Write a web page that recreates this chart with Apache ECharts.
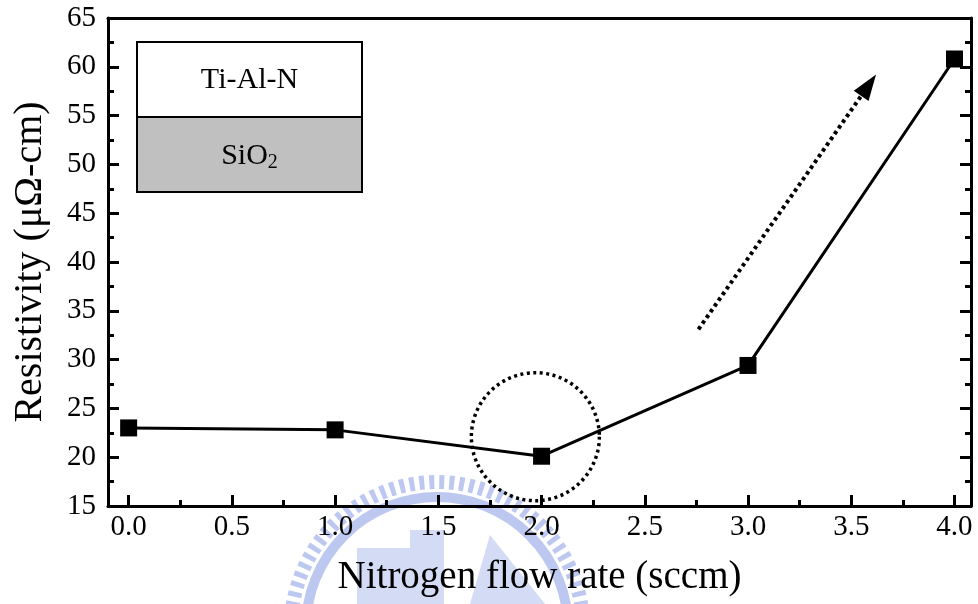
<!DOCTYPE html>
<html>
<head>
<meta charset="utf-8">
<script src="https://cdn.jsdelivr.net/npm/echarts@6/dist/echarts.min.js"></script>
<style>
  html, body { margin: 0; padding: 0; background: #fff; }
  #chart { width: 978px; height: 604px; }
</style>
</head>
<body>
<div id="chart"></div>
<script>
// Nitrogen flow rate (sccm) and measured film resistivity (μΩ-cm)
const flowRates = [0.0, 1.0, 2.0, 3.0, 4.0];
const resistivity = [23.0, 22.8, 20.1, 29.4, 60.8];

// Axis tick positions and labels
const xMajorTicks = [0.0, 0.5, 1.0, 1.5, 2.0, 2.5, 3.0, 3.5, 4.0];
const xMinorTicks = [0.25, 0.75, 1.25, 1.75, 2.25, 2.75, 3.25, 3.75];
const yTickLabels = ['15', '20', '25', '30', '35', '40', '45', '50', '55', '60', '65'];

// Layer stack in the inset
const layerNames = ['Ti-Al-N', 'SiO{sub|2}'];

const FONT = "'Liberation Serif', 'Times New Roman', serif";
const X_MIN = -0.1, X_MAX = 4.08;
const Y_MIN = 15, Y_MAX = 65, Y_STEP = 5;

const chart = echarts.init(document.getElementById('chart'), null, { renderer: 'canvas' });

const axisLineStyle = { color: '#000', width: 3 };

const option = {
  backgroundColor: '#fff',
  animation: false,
  grid: { left: 108, right: 7, top: 18, bottom: 98, containLabel: false },
  xAxis: [
    {
      type: 'value', min: X_MIN, max: X_MAX, position: 'bottom',
      axisLine: { show: true, onZero: false, lineStyle: axisLineStyle },
      axisTick: { show: true, inside: true, length: 11, lineStyle: { width: 3, color: '#000' }, customValues: xMajorTicks },
      axisLabel: {
        show: true, customValues: xMajorTicks, margin: 7,
        fontFamily: FONT, fontSize: 29, color: '#000',
        formatter: v => v.toFixed(1)
      },
      splitLine: { show: false },
      name: 'Nitrogen flow rate (sccm)', nameLocation: 'middle', nameGap: 52,
      nameTextStyle: { fontFamily: FONT, fontSize: 39, color: '#000' }
    },
    {
      // minor ticks on the bottom axis
      type: 'value', min: X_MIN, max: X_MAX, position: 'bottom',
      axisLine: { show: false, onZero: false },
      axisTick: { show: true, inside: true, length: 6, lineStyle: { width: 3, color: '#000' }, customValues: xMinorTicks },
      axisLabel: { show: false },
      splitLine: { show: false }
    },
    {
      // top frame line
      type: 'value', min: X_MIN, max: X_MAX, position: 'top',
      axisLine: { show: true, onZero: false, lineStyle: axisLineStyle },
      axisTick: { show: false }, axisLabel: { show: false }, splitLine: { show: false }
    }
  ],
  yAxis: [
    {
      type: 'value', min: Y_MIN, max: Y_MAX, interval: Y_STEP, position: 'left',
      axisLine: { show: true, onZero: false, lineStyle: axisLineStyle },
      axisTick: { show: true, inside: true, length: 11, lineStyle: { width: 3, color: '#000' } },
      minorTick: { show: true, splitNumber: 2, length: 6, lineStyle: { width: 3, color: '#000' } },
      axisLabel: {
        margin: 12, fontFamily: FONT, fontSize: 29, color: '#000',
        formatter: v => yTickLabels[Math.round((v - Y_MIN) / Y_STEP)]
      },
      splitLine: { show: false },
      name: 'Resistivity (μΩ-cm)', nameLocation: 'middle', nameGap: 58, nameRotate: 90,
      nameTextStyle: { fontFamily: FONT, fontSize: 40, color: '#000' }
    },
    {
      type: 'value', min: Y_MIN, max: Y_MAX, interval: Y_STEP, position: 'right',
      axisLine: { show: true, onZero: false, lineStyle: axisLineStyle },
      axisTick: { show: true, inside: true, length: 11, lineStyle: { width: 3, color: '#000' } },
      minorTick: { show: true, splitNumber: 2, length: 6, lineStyle: { width: 3, color: '#000' } },
      axisLabel: { show: false },
      splitLine: { show: false }
    }
  ],
  series: [
    {
      type: 'line',
      xAxisIndex: 0, yAxisIndex: 0,
      data: flowRates.map((x, i) => [x, resistivity[i]]),
      symbol: 'rect', symbolSize: 17,
      lineStyle: { color: '#000', width: 3 },
      itemStyle: { color: '#000' },
      z: 5
    }
  ]
};

chart.setOption(option);

// Faint gear-shaped emblem stamped behind the lower part of the figure
function emblem() {
  const cx = 437, cy = 628, ring = '#bcc8ef', fill = '#d3dbf5';
  return [
    { type: 'circle', z: -1, silent: true, shape: { cx, cy, r: 146 },
      style: { fill: 'none', stroke: ring, lineWidth: 14, lineDash: [5, 5] } },
    { type: 'circle', z: -1, silent: true, shape: { cx, cy, r: 131 },
      style: { fill: 'none', stroke: ring, lineWidth: 10 } },
    { type: 'rect', z: -1, silent: true, shape: { x: 357, y: 548, width: 62, height: 56 },
      style: { fill: fill } },
    { type: 'rect', z: -1, silent: true, shape: { x: 410, y: 530, width: 34, height: 74 },
      style: { fill: fill } },
    { type: 'polygon', z: -1, silent: true, shape: { points: [[470, 604], [490, 535], [545, 604]] },
      style: { fill: fill } }
  ];
}

// Annotations: inset layer stack, dotted circle around the minimum, dotted trend arrow
function drawAnnotations() {
  const px = (x, y) => chart.convertToPixel({ xAxisIndex: 0, yAxisIndex: 0 }, [x, y]);
  const c = px(1.97, 22.1);
  const r = 64;
  const a0 = px(2.76, 33.1);
  const a1 = px(3.62, 59.2);
  const dx = a1[0] - a0[0], dy = a1[1] - a0[1];
  const len = Math.hypot(dx, dy), ux = dx / len, uy = dy / len;
  const headLen = 26, headW = 9;
  const baseX = a1[0] - ux * headLen, baseY = a1[1] - uy * headLen;

  chart.setOption({
    graphic: emblem().concat([
      // inset: upper layer
      { type: 'rect', shape: { x: 137, y: 42, width: 225, height: 75 },
        style: { fill: '#fff', stroke: '#000', lineWidth: 2 }, z: 10 },
      // inset: lower layer
      { type: 'rect', shape: { x: 137, y: 117, width: 225, height: 75 },
        style: { fill: '#c0c0c0', stroke: '#000', lineWidth: 2 }, z: 10 },
      { type: 'text', x: 249.5, y: 80, z: 11,
        style: { text: layerNames[0], font: '30px ' + FONT, fill: '#000', align: 'center', verticalAlign: 'middle' } },
      { type: 'text', x: 249.5, y: 156, z: 11,
        style: { text: layerNames[1], font: '30px ' + FONT, fill: '#000', align: 'center', verticalAlign: 'middle',
          rich: { sub: { fontFamily: FONT, fontSize: 20, verticalAlign: 'bottom', padding: [14, 0, 0, 0] } } } },
      // dotted circle
      { type: 'circle', shape: { cx: c[0], cy: c[1], r: r }, z: 6,
        style: { fill: 'none', stroke: '#000', lineWidth: 3.5, lineDash: [3, 3.5] } },
      // dotted arrow shaft
      { type: 'line', shape: { x1: a0[0], y1: a0[1], x2: baseX + ux * 2, y2: baseY + uy * 2 }, z: 6,
        style: { stroke: '#000', lineWidth: 4, lineDash: [3.5, 3.5] } },
      // arrow head
      { type: 'polygon', z: 6,
        shape: { points: [
          [a1[0], a1[1]],
          [baseX - uy * headW, baseY + ux * headW],
          [baseX + uy * headW, baseY - ux * headW]
        ] },
        style: { fill: '#000' } }
    ])
  });
}
drawAnnotations();
</script>
</body>
</html>
